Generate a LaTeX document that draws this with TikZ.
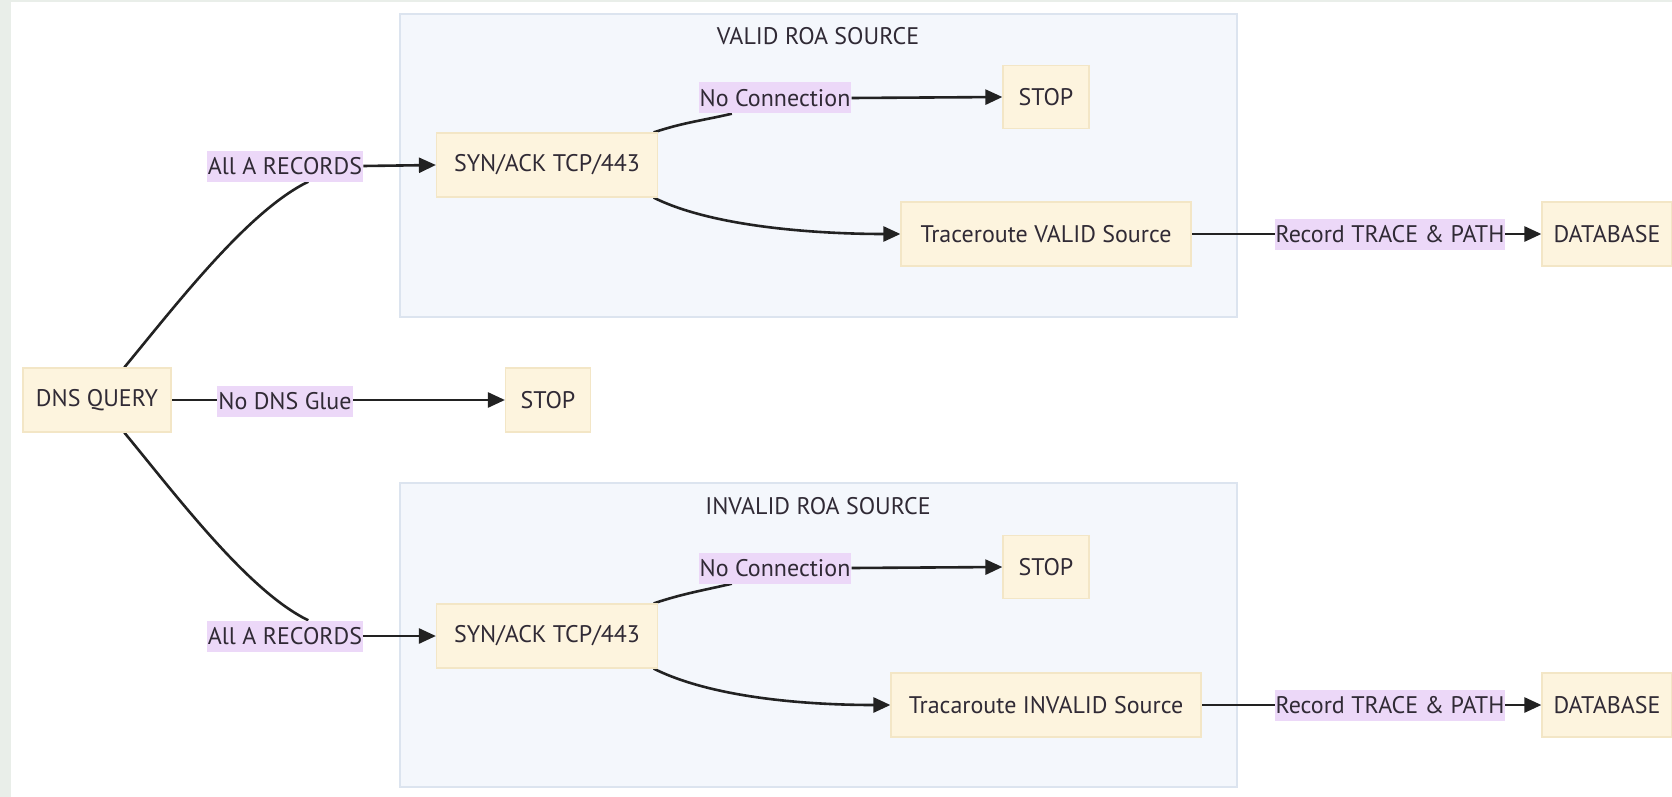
\documentclass[tikz,border=0pt]{standalone}
\usepackage{fontspec}
\setmainfont{PT Sans}
\usetikzlibrary{arrows.meta}
\definecolor{nodefill}{HTML}{FDF4DE}
\definecolor{nodeline}{HTML}{F3E6C6}
\definecolor{lblfill}{HTML}{ECD8F8}
\definecolor{grpfill}{HTML}{F4F7FC}
\definecolor{grpline}{HTML}{DCE4EF}
\definecolor{ink}{HTML}{302A35}
\definecolor{wire}{HTML}{222222}
\definecolor{strip}{HTML}{E9EEE9}
\pgfdeclarelayer{bg}
\pgfdeclarelayer{lines}
\pgfsetlayers{bg,lines,main}
\begin{document}
\begin{tikzpicture}[x=1pt,y=1pt,
  txt/.style={text=ink, font=\fontsize{24}{28}\selectfont},
  procbox/.style={txt, draw=nodeline, line width=1.2pt, fill=nodefill,
    minimum height=63pt, inner sep=0pt},
  lbl/.style={txt, fill=lblfill, inner xsep=1pt, inner ysep=0pt, minimum height=31pt},
  grp/.style={draw=grpline, line width=1.5pt, fill=grpfill},
  conn/.style={draw=wire, line width=2.6pt},
  arr/.style={-{Triangle[length=17pt,width=15pt]}}]

\useasboundingbox (0,0) rectangle (1672,-797);

% page background and groups
\begin{pgfonlayer}{bg}
  \fill[white] (0,0) rectangle (1672,-797);
  \fill[strip] (0,0) rectangle (11,-797);
  \fill[strip] (0,0) rectangle (1672,-2.5);
  \path[grp] (400,-14) rectangle (1237,-317);
  \path[grp] (400,-483) rectangle (1237,-787);
\end{pgfonlayer}

% group titles
\node[txt] (tvalid) at (818,-36) {VALID ROA SOURCE};
\node[txt] (tinvalid) at (818,-506) {INVALID ROA SOURCE};

% nodes
\node[procbox, minimum width=148pt, minimum height=64pt] (dns) at (97,-400) {DNS QUERY};
\node[procbox, minimum width=85pt, minimum height=64pt] (stop0) at (548,-400) {STOP};

\node[procbox, minimum width=221pt, minimum height=64pt] (syn1) at (547,-165) {SYN/ACK TCP/443};
\node[procbox, minimum width=86pt] (stop1) at (1046,-97) {STOP};
\node[procbox, minimum width=290pt, minimum height=64pt] (trace1) at (1046,-234) {Traceroute VALID Source};
\node[procbox, minimum width=130pt, minimum height=64pt] (db1) at (1607,-234) {DATABASE};

\node[procbox, minimum width=221pt, minimum height=64pt] (syn2) at (547,-636) {SYN/ACK TCP/443};
\node[procbox, minimum width=86pt] (stop2) at (1046,-567) {STOP};
\node[procbox, minimum width=310pt, minimum height=64pt] (trace2) at (1046,-705) {Tracaroute INVALID Source};
\node[procbox, minimum width=130pt, minimum height=64pt] (db2) at (1607,-705) {DATABASE};

% edge labels
\node[lbl] (lblng) at (285,-401) {No DNS Glue};
\node[lbl] (lbla1) at (285,-166) {All A RECORDS};
\node[lbl] (lbla2) at (285,-636) {All A RECORDS};
\node[lbl] (lblnc1) at (775,-98) {No Connection};
\node[lbl] (lblnc2) at (775,-568) {No Connection};
\node[lbl] (lblr1) at (1390,-234) {Record TRACE \& PATH};
\node[lbl] (lblr2) at (1390,-705) {Record TRACE \& PATH};

% connectors
\begin{pgfonlayer}{lines}
  \draw[conn, arr] (dns.east) -- (stop0.west);

  \draw[conn] (dns.50) .. controls +(52,63) and +(-60,-29) .. (lbla1.-34);
  \draw[conn, arr] (lbla1.east) -- (syn1.west);
  \draw[conn] (dns.-50) .. controls +(52,-63) and +(-60,29) .. (lbla2.34);
  \draw[conn, arr] (lbla2.east) -- (syn2.west);

  \draw[conn] (syn1.17) .. controls +(30,10) and +(-30,-7) .. (lblnc1.200);
  \draw[conn, arr] (lblnc1.east) -- (stop1.west);
  \draw[conn, arr] (syn1.-17) .. controls +(60,-30) and +(-80,0) .. (trace1.west);
  \draw[conn, arr] (trace1.east) -- (db1.west);

  \draw[conn] (syn2.17) .. controls +(30,10) and +(-30,-7) .. (lblnc2.200);
  \draw[conn, arr] (lblnc2.east) -- (stop2.west);
  \draw[conn, arr] (syn2.-17) .. controls +(60,-30) and +(-80,0) .. (trace2.west);
  \draw[conn, arr] (trace2.east) -- (db2.west);
\end{pgfonlayer}
\end{tikzpicture}
\end{document}
